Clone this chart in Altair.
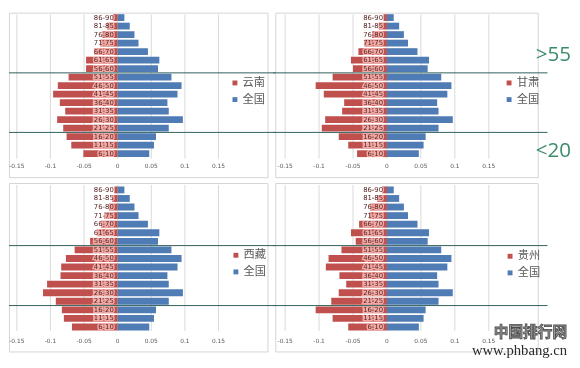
import altair as alt
import pandas as pd

# ---------------- data (bottom -> top) ----------------
AGES = ["6-10", "11-15", "16-20", "21-25", "26-30", "31-35", "36-40", "41-45",
        "46-50", "51-55", "56-60", "61-65", "66-70", "71-75", "76-80", "81-85", "86-90"]
NATIONAL_NAME = "全国"
NATIONAL = [0.047, 0.054, 0.057, 0.076, 0.097, 0.076, 0.074, 0.089, 0.095,
            0.080, 0.060, 0.062, 0.045, 0.031, 0.025, 0.018, 0.010]
YUNNAN = [0.051, 0.069, 0.076, 0.081, 0.090, 0.078, 0.086, 0.096, 0.089,
          0.073, 0.047, 0.047, 0.035, 0.026, 0.023, 0.016, 0.007]
GANSU = [0.044, 0.057, 0.071, 0.096, 0.091, 0.066, 0.063, 0.093, 0.105,
         0.080, 0.050, 0.053, 0.042, 0.033, 0.022, 0.012, 0.005]
XIZANG = [0.068, 0.080, 0.083, 0.092, 0.111, 0.105, 0.085, 0.084, 0.077,
          0.064, 0.041, 0.031, 0.025, 0.020, 0.013, 0.008, 0.005]
GUIZHOU = [0.057, 0.080, 0.105, 0.082, 0.071, 0.060, 0.070, 0.090, 0.086,
           0.067, 0.046, 0.053, 0.041, 0.026, 0.025, 0.014, 0.007]
TICKS = [-0.15, -0.1, -0.05, 0, 0.05, 0.1, 0.15]
TICK_LABELS = ["-0.15", "-0.1", "-0.05", "0", "0.05", "0.1", "0.15"]
BOUNDARY_AGES = ["56-60", "21-25"]   # first group above the >55 / <20 boundaries
ANNOTATIONS = [">55", "<20"]
WATERMARK = ["中国排行网", "www.phbang.cn"]

RED = "#c0504d"
BLUE = "#4f7cb5"
GREEN_LINE = "#2e5e58"
GREEN_TEXT = "#3d8c6c"
CJK = "Noto Sans CJK SC"


def panel(region, values, W, H, px_lo, px_hi, y_top, y_bot, grid_top, axis_px,
          label_px, legend_xy, green_x, annotate=False, watermark=False):
    k = (px_hi - px_lo) / 0.3
    xmin = -0.15 - px_lo / k
    xmax = xmin + W / k
    step = (y_bot - y_top) / (len(AGES) - 1)
    top_i = len(AGES) - 1
    yhi = top_i + y_top / step
    ylo = top_i - (H - y_top) / step
    xs = alt.Scale(domain=[xmin, xmax], nice=False, zero=False)
    ys = alt.Scale(domain=[ylo, yhi], nice=False, zero=False)

    rows = []
    for i, (a, v, n) in enumerate(zip(AGES, values, NATIONAL)):
        rows.append({"idx": i, "age": a, "series": region, "x1": -v, "x2": 0.0})
        rows.append({"idx": i, "age": a, "series": NATIONAL_NAME, "x1": 0.0, "x2": n})
    bars_df = pd.DataFrame(rows)
    ticks_df = pd.DataFrame({"t": TICKS, "lab": TICK_LABELS})
    labels_df = pd.DataFrame({"idx": list(range(len(AGES))), "age": AGES,
                              "zero": [0.0] * len(AGES)})
    bnd_df = pd.DataFrame({"b": [AGES.index(a) - 0.5 for a in BOUNDARY_AGES]})

    grid = alt.Chart(ticks_df).mark_rule(color="#d9d9d9", strokeWidth=1).encode(
        x=alt.X("t:Q", scale=xs, axis=None),
        y=alt.value(grid_top), y2=alt.value(axis_px))
    ticklab = alt.Chart(ticks_df).mark_text(
        fontSize=6, color="#595959", baseline="middle", font="DejaVu Sans").encode(
        x=alt.X("t:Q", scale=xs, axis=None), y=alt.value(label_px), text="lab:N")

    bars = alt.Chart(bars_df).transform_calculate(
        y1="datum.idx - 0.4", y2="datum.idx + 0.4"
    ).mark_bar().encode(
        x=alt.X("x1:Q", scale=xs, axis=None),
        x2="x2:Q",
        y=alt.Y("y1:Q", scale=ys, axis=None),
        y2="y2:Q",
        color=alt.Color("series:N",
                        scale=alt.Scale(domain=[region, NATIONAL_NAME], range=[RED, BLUE]),
                        legend=alt.Legend(orient="none", legendX=legend_xy[0],
                                          legendY=legend_xy[1], title=None,
                                          symbolType="square", symbolSize=25,
                                          symbolStrokeWidth=0, labelFontSize=11.5,
                                          labelFont=CJK, labelColor="#595959",
                                          rowPadding=4, padding=0, labelOffset=2)),
    )
    halo = alt.Chart(labels_df).mark_text(
        align="right", baseline="middle", dx=-4, fontSize=7, font="DejaVu Sans",
        fill="#f0aaa6", stroke="#f0aaa6", strokeWidth=3, blend="lighten").encode(
        x=alt.X("zero:Q", scale=xs, axis=None),
        y=alt.Y("idx:Q", scale=ys, axis=None), text="age:N")
    lab = alt.Chart(labels_df).mark_text(
        align="right", baseline="middle", dx=-4, fontSize=7, font="DejaVu Sans",
        color="#5b2323").encode(
        x=alt.X("zero:Q", scale=xs, axis=None),
        y=alt.Y("idx:Q", scale=ys, axis=None), text="age:N")
    green = alt.Chart(bnd_df).mark_rule(color=GREEN_LINE, strokeWidth=1).encode(
        y=alt.Y("b:Q", scale=ys, axis=None),
        x=alt.value(green_x[0]), x2=alt.value(green_x[1]))

    layers = [grid, ticklab, bars, halo, lab, green]
    if annotate:
        for txt, py in zip(ANNOTATIONS, [43, 141]):
            layers.append(alt.Chart(pd.DataFrame({"s": [txt]})).mark_text(
                align="left", baseline="middle", fontSize=21, font="Open Sans",
                color=GREEN_TEXT).encode(x=alt.value(W - 2), y=alt.value(py), text="s:N"))
    if watermark:
        layers.append(alt.Chart(pd.DataFrame({"s": [WATERMARK[0]]})).mark_text(
            align="right", baseline="middle", fontSize=15, font=CJK, fontWeight="bold",
            fill="#9a9a9a", stroke="#4a4a4a", strokeWidth=0.8).encode(
            x=alt.value(W + 30), y=alt.value(152), text="s:N"))
        layers.append(alt.Chart(pd.DataFrame({"s": [WATERMARK[1]]})).mark_text(
            align="right", baseline="middle", fontSize=15, font="Liberation Serif",
            color="#2a2a2a").encode(
            x=alt.value(W + 30), y=alt.value(171), text="s:N"))
    return alt.layer(*layers).properties(width=W, height=H)


tl = panel("云南", YUNNAN, 264, 168, 8, 214, 5, 144, 2, 149, 157, (225, 66), (0, 272))
tr = panel("甘肃", GANSU, 268, 168, 10, 218, 5, 144, 2, 149, 157, (233, 66), (-2, 278),
           annotate=True)
bl = panel("西藏", XIZANG, 264, 172, 8, 214, 7, 147, 2, 151, 161, (226, 68), (0, 272))
br = panel("贵州", GUIZHOU, 268, 172, 10, 218, 7, 147, 2, 151, 161, (234, 69), (-2, 278),
           watermark=True)

chart = alt.concat(tl, tr, bl, br, columns=2,
                   spacing=alt.RowColnumber(row=6, column=8),
                   bounds="flush").resolve_scale(
    x="independent", y="independent", color="independent").resolve_legend(
    color="independent").properties(padding=0, background="white").configure_view(
    stroke="#d4d4d4", strokeWidth=1)

chart.save("out.html", embed_options={"renderer": "svg", "actions": False})
